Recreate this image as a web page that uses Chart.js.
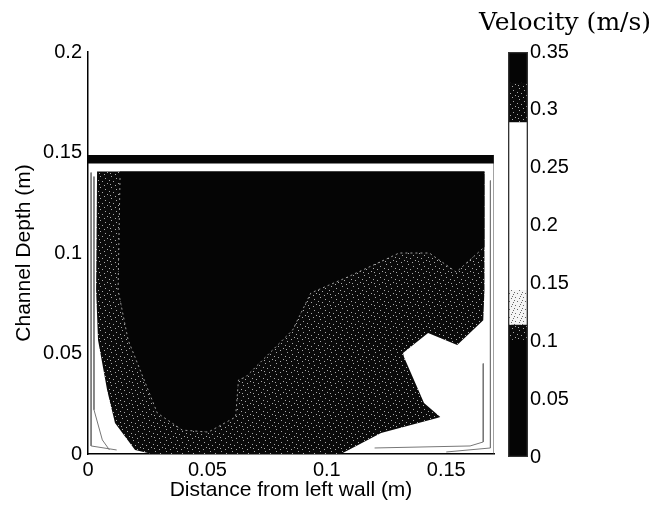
<!DOCTYPE html>
<html>
<head>
<meta charset="utf-8">
<script src="https://cdn.jsdelivr.net/npm/chart.js@4.4.1/dist/chart.umd.min.js"></script>
<style>
  html, body { margin: 0; padding: 0; background: #fff; }
  #wrap { position: relative; width: 656px; height: 507px; }
  #main { position: absolute; left: 0; top: 0; }
  #cbar { position: absolute; left: 474px; top: 0; }
</style>
</head>
<body>
<div id="wrap">
  <canvas id="main" width="500" height="507"></canvas>
  <canvas id="cbar" width="182" height="507"></canvas>
</div>
<script>
// ── Axis ticks ──
const xTicks    = [0, 0.05, 0.1, 0.15];
const yTicks    = [0, 0.05, 0.1, 0.15, 0.2];
const cbarTicks = [0, 0.05, 0.1, 0.15, 0.2, 0.25, 0.3, 0.35];

// ── Fast core: contour edge from left wall, round the bottom, to right wall (m) ──
const coreX = [0.0134, 0.0126, 0.0168, 0.0252, 0.029, 0.0395, 0.0504, 0.0618, 0.063, 0.066, 0.0773, 0.0857, 0.0933, 0.1088, 0.124, 0.1303, 0.1429, 0.1542, 0.166];
const coreY = [0.1373, 0.0816, 0.0567, 0.0318, 0.0204, 0.0119, 0.0109, 0.0184, 0.0368, 0.0383, 0.0517, 0.0617, 0.0801, 0.0881, 0.0965, 0.1, 0.1, 0.0905, 0.103];
const coreTop = 0.1405;

// ── Slower band round the core (outline) ──
const slowX = [0.0038, 0.166, 0.166, 0.1655, 0.1546, 0.1424, 0.1319, 0.1323, 0.1407, 0.1475, 0.1462, 0.1227, 0.1059, 0.0269, 0.0197, 0.0113, 0.008, 0.0042, 0.0034];
const slowY = [0.1405, 0.1405, 0.0816, 0.0666, 0.0542, 0.0602, 0.0502, 0.0483, 0.0254, 0.0184, 0.0179, 0.0104, 0.0, 0.0, 0.002, 0.0154, 0.0318, 0.0567, 0.0816];

// ── Free surface band ──
const surfaceX  = [0, 0.17];
const surfaceLo = 0.1445;
const surfaceHi = 0.1488;

// ── Near-wall contour lines ──
const wallL1X = [0.0013, 0.0013, 0.012];
const wallL1Y = [0.140, 0.004, 0.002];
const wallL2X = [0.0025, 0.0025, 0.006, 0.009];
const wallL2Y = [0.138, 0.022, 0.007, 0.002];
const wallR1X = [0.1655, 0.1655, 0.160, 0.12];
const wallR1Y = [0.045, 0.006, 0.004, 0.003];
const wallR2X = [0.1685, 0.1685, 0.150];
const wallR2Y = [0.136, 0.003, 0.001];
const edgeX   = [0.17, 0.17];
const edgeY   = [0, 0.1488];

// ── Colour bar bands (m/s) ──
const bandLo    = [0, 0.101, 0.114, 0.144, 0.289, 0.323];
const bandHi    = [0.101, 0.114, 0.144, 0.289, 0.323, 0.35];
const bandShade = ["black", "dark", "light", "white", "dark", "black"];

Chart.defaults.color = "#000";
Chart.defaults.font.family = "'Liberation Sans', Arial, sans-serif";
Chart.defaults.animation = false;

// speckled fill, like the scanned grey levels
function speckle(base, dot, spots, n) {
  const c = document.createElement("canvas");
  c.width = c.height = n;
  const g = c.getContext("2d");
  g.fillStyle = base;
  g.fillRect(0, 0, n, n);
  g.fillStyle = dot;
  spots.forEach(([x, y]) => g.fillRect(x, y, 1, 1));
  return g.createPattern(c, "repeat");
}
const SHADES = {
  black: "#050505",
  dark:  speckle("#0a0a0a", "#aaa", [[1,0],[6,2],[3,5],[8,7],[0,8],[5,9],[10,4]], 11),
  light: speckle("#f4f4f4", "#666", [[1,1],[5,2],[3,5],[7,6],[0,4],[6,0]], 8),
  white: "#fff",
};

const pts = (xs, ys) => xs.map((x, i) => ({ x, y: ys[i] }));

const corePoly = [{ x: coreX[0], y: coreTop }, ...pts(coreX, coreY), { x: coreX[coreX.length - 1], y: coreTop }];
const surfPoly = [
  { x: surfaceX[0], y: surfaceLo }, { x: surfaceX[1], y: surfaceLo },
  { x: surfaceX[1], y: surfaceHi }, { x: surfaceX[0], y: surfaceHi },
];

function area(data, color, order) {
  return { data, backgroundColor: color, borderWidth: 0, fill: "shape", order };
}
function line(data, color, order, dash) {
  return { data, borderColor: color, borderWidth: 1, borderDash: dash || [], fill: false, order };
}

const tickFont  = { size: 20 };
const titleFont = { size: 21 };

new Chart(document.getElementById("main"), {
  type: "line",
  data: {
    datasets: [
      line(pts(edgeX, edgeY), "#444", 0),
      area(surfPoly, "#050505", 1),
      line(pts(coreX, coreY), "#9a9a9a", 2, [2, 3]),
      area(corePoly, SHADES.black, 3),
      area(pts(slowX, slowY), SHADES.dark, 4),
      line(pts(wallL1X, wallL1Y), "#777", 5),
      line(pts(wallL2X, wallL2Y), "#777", 5),
      line(pts(wallR1X, wallR1Y), "#777", 5),
      line(pts(wallR2X, wallR2Y), "#777", 5),
    ],
  },
  options: {
    responsive: false,
    layout: { padding: { top: 52, right: 6, left: 0, bottom: 0 } },
    elements: { point: { radius: 0 }, line: { tension: 0 } },
    plugins: { legend: { display: false }, tooltip: { enabled: false } },
    scales: {
      x: {
        type: "linear", min: 0, max: 0.17,
        afterBuildTicks: s => { s.ticks = xTicks.map(v => ({ value: v })); },
        afterFit: s => { s.height = 53; },
        ticks: { callback: v => String(v), font: tickFont, padding: 4, maxRotation: 0 },
        grid: { display: false, drawTicks: false },
        border: { color: "#000", width: 1.5 },
        title: { display: true, text: "Distance from left wall (m)", font: titleFont, padding: { top: 0, bottom: 4 } },
      },
      y: {
        type: "linear", min: 0, max: 0.2,
        afterBuildTicks: s => { s.ticks = yTicks.map(v => ({ value: v })); },
        afterFit: s => { s.width = 88; },
        ticks: { callback: v => String(v), font: tickFont, padding: 6 },
        grid: { display: false, drawTicks: false },
        border: { color: "#000", width: 1.5 },
        title: { display: true, text: "Channel Depth (m)", font: titleFont, padding: { top: 12, bottom: 0 } },
      },
    },
  },
});

// ── Colour bar ──
const bandSets = bandLo.map((lo, i) => ({
  data: [[lo, bandHi[i]]],
  backgroundColor: SHADES[bandShade[i]],
  borderWidth: 0,
  grouped: false,
  barPercentage: 1,
  categoryPercentage: 1,
  order: 1,
}));
bandSets.push({
  data: [[cbarTicks[0], cbarTicks[cbarTicks.length - 1]]],
  backgroundColor: "rgba(0,0,0,0)",
  borderColor: "#333",
  borderWidth: 1,
  borderSkipped: false,
  grouped: false,
  barPercentage: 1,
  categoryPercentage: 1,
  order: 0,
});

new Chart(document.getElementById("cbar"), {
  type: "bar",
  data: { labels: [""], datasets: bandSets },
  options: {
    responsive: false,
    layout: { padding: { top: 0, right: 0, left: 0, bottom: 50 } },
    plugins: {
      legend: { display: false },
      tooltip: { enabled: false },
      title: {
        display: true, text: "Velocity (m/s)", color: "#000",
        font: { family: "'DejaVu Serif', serif", size: 25, weight: "normal" },
        padding: { top: 8, bottom: 14 },
      },
    },
    scales: {
      x: { display: false },
      yl: {
        position: "left", min: 0, max: 0.35,
        afterFit: s => { s.width = 34; },
        ticks: { display: false },
        grid: { display: false, drawTicks: false },
        border: { display: false },
      },
      y: {
        position: "right", min: 0, max: 0.35,
        afterBuildTicks: s => { s.ticks = cbarTicks.map(v => ({ value: v })); },
        afterFit: s => { s.width = 128; },
        ticks: { callback: v => String(v), font: tickFont, padding: 2 },
        grid: { display: false, drawTicks: false },
        border: { display: false },
      },
    },
  },
});
</script>
</body>
</html>
